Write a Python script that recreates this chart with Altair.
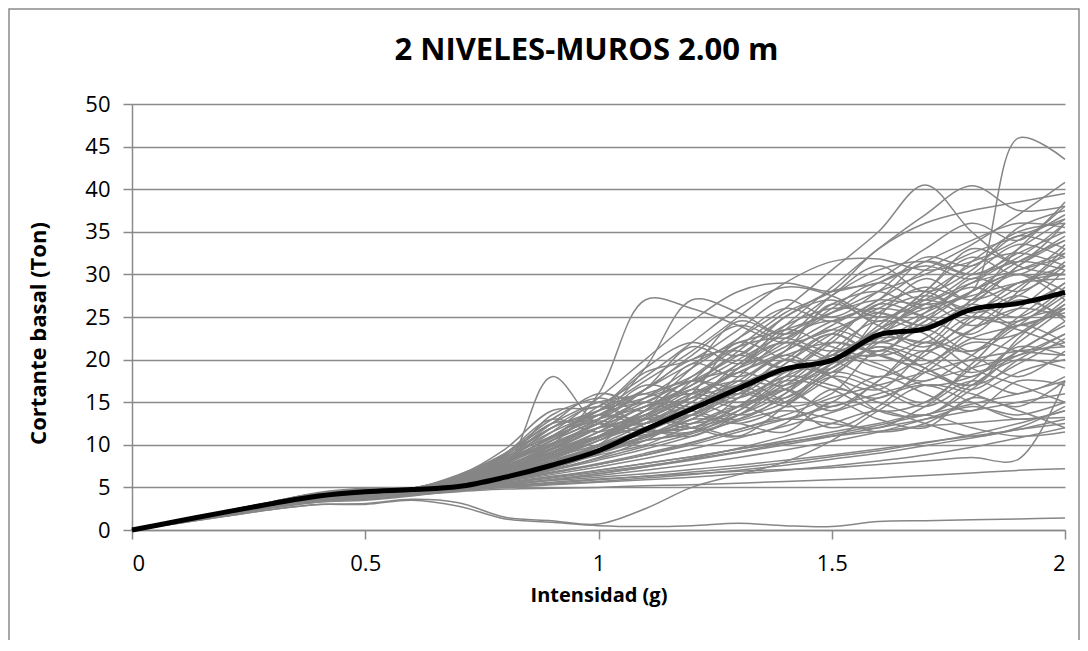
import altair as alt
import pandas as pd

X = [0, 0.1, 0.2, 0.3, 0.4, 0.5, 0.6, 0.7, 0.8, 0.9, 1.0,
     1.1, 1.2, 1.3, 1.4, 1.5, 1.6, 1.7, 1.8, 1.9, 2.0]

mean_curve = [0, 1.05, 2.1, 3.1, 4.0, 4.5, 4.75, 5.1, 6.2, 7.6, 9.3,
              11.8, 14.2, 16.6, 18.9, 19.9, 22.9, 23.6, 25.9, 26.6, 27.9]

g01 = [0,1.0,2.0,3.0,3.9,4.5,4.7,5.6,7.5,9.5,12.0,14.5,17.0,20.0,23.0,25.5,27.0,26.5,28.0,46.0,43.5]
g02 = [0,1.1,2.2,3.3,4.4,4.9,4.9,6.0,8.0,10.0,12.5,15.5,19.0,22.5,26.0,30.5,35.0,40.5,35.0,31.0,30.0]
g03 = [0,1.0,2.1,3.1,4.1,4.7,4.8,5.5,7.0,9.0,11.0,13.5,16.5,19.5,24.0,28.5,33.0,37.0,40.4,37.5,38.0]
g04 = [0,1.0,2.0,3.0,3.9,4.5,4.7,5.3,6.8,8.5,10.5,13.0,15.5,18.5,21.0,24.0,27.0,30.5,33.5,37.0,40.8]
g05 = [0,1.1,2.2,3.3,4.3,4.8,4.9,5.8,7.5,10.0,16.0,27.0,26.0,24.0,22.0,23.5,26.0,28.5,27.0,29.0,31.0]
g06 = [0,1.0,2.1,3.1,4.0,4.6,4.8,6.2,7.5,18.0,12.5,13.5,16.0,18.5,20.5,22.0,21.0,24.0,26.5,25.0,28.5]
g07 = [0,1.0,2.0,3.0,3.8,4.3,4.6,5.5,7.2,9.5,13.0,19.0,27.0,25.5,23.0,25.5,29.0,31.0,29.5,33.0,36.5]
g08 = [0,0.9,1.8,2.7,3.5,4.0,4.4,5.2,6.5,8.0,10.0,12.5,15.5,19.0,23.5,27.5,30.5,31.5,30.0,32.5,35.0]
g09 = [0,1.0,2.0,3.0,3.9,4.5,4.7,5.7,8.0,11.0,14.0,17.5,21.0,25.0,29.0,31.5,31.8,30.5,31.5,34.0,37.0]
g10 = [0,1.1,2.2,3.2,4.2,4.8,4.9,6.5,9.0,12.5,15.0,16.0,18.0,21.5,25.5,28.0,33.0,36.0,37.5,38.5,39.5]
g11 = [0,1.0,2.0,3.0,3.9,4.4,4.6,5.2,6.0,7.0,8.2,9.5,11.0,13.0,15.5,18.5,22.0,25.0,28.0,31.5,34.0]
g12 = [0,0.9,1.8,2.7,3.4,3.8,4.3,4.9,5.5,6.2,7.0,7.8,8.6,9.5,10.3,11.0,11.6,12.2,12.6,13.0,13.2]
g13 = [0,0.8,1.6,2.4,3.0,3.1,3.6,3.2,1.5,1.1,0.7,2.5,5.0,6.5,8.0,10.5,14.0,17.0,16.0,14.5,17.5]
g14 = [0,0.8,1.6,2.4,3.0,3.0,3.5,2.8,1.3,0.9,0.5,0.4,0.5,0.8,0.5,0.4,1.0,1.1,1.2,1.3,1.4]
g15 = [0,0.9,1.8,2.6,3.3,3.6,4.1,4.5,4.8,4.9,5.0,5.2,5.3,5.5,5.7,5.9,6.1,6.4,6.7,7.0,7.2]
g16 = [0,0.9,1.8,2.7,3.4,3.9,4.3,4.8,5.2,5.6,6.0,6.3,6.6,6.9,7.1,7.3,7.7,8.1,8.5,8.3,17.5]
g17 = [0,0.9,1.8,2.7,3.5,3.9,4.4,5.0,5.6,6.3,7.0,7.8,8.6,9.5,10.5,11.5,12.5,13.5,12.0,11.0,11.5]
g18 = [0,1.0,2.0,2.9,3.7,4.2,4.5,5.1,5.9,6.8,7.8,9.0,10.3,11.8,13.5,15.5,17.0,18.5,20.0,21.0,21.5]
g19 = [0,1.0,2.0,3.0,3.9,4.4,4.7,5.4,6.5,8.0,9.5,11.5,14.0,17.0,19.0,18.0,14.0,13.5,16.5,21.0,24.0]
g20 = [0,1.0,2.1,3.1,4.0,4.6,4.8,5.9,7.8,10.5,13.5,15.0,14.0,13.0,16.0,21.0,24.5,23.0,19.0,17.0,15.0]
g21 = [0,1.1,2.2,3.2,4.2,4.8,4.9,6.3,8.5,11.5,13.5,13.0,15.0,19.5,22.0,20.0,18.0,20.5,25.0,29.0,30.0]
g22 = [0,1.0,2.0,3.0,3.9,4.5,4.7,5.6,7.2,9.0,11.0,14.0,18.0,21.5,22.5,21.0,23.0,27.5,31.0,32.5,31.0]
g23 = [0,1.0,2.0,3.0,3.8,4.3,4.6,5.3,6.4,7.8,9.3,11.0,13.0,15.5,18.0,20.5,23.0,25.5,28.0,30.5,32.5]
g24 = [0,0.9,1.9,2.8,3.6,4.1,4.5,5.0,5.8,6.7,7.7,8.8,10.0,11.5,13.0,14.5,16.0,17.5,19.0,20.5,22.0]
g25 = [0,1.0,2.0,3.0,3.9,4.5,4.7,5.8,7.8,10.0,12.0,12.5,14.5,17.5,15.0,12.0,14.5,19.0,22.5,24.0,25.5]
g26 = [0,1.0,2.1,3.1,4.0,4.6,4.8,6.1,8.2,11.0,14.5,18.0,22.0,26.0,28.5,27.5,25.0,27.0,31.5,35.0,36.0]
g27 = [0,1.1,2.1,3.2,4.2,4.7,4.9,6.0,8.0,10.5,13.0,16.5,20.0,21.0,19.0,20.5,25.5,27.5,26.0,28.5,33.0]
g28 = [0,1.0,2.0,3.0,3.9,4.4,4.7,5.4,6.8,8.5,10.0,11.5,12.0,14.5,18.0,17.0,15.5,18.5,22.0,21.0,20.5]
g29 = [0,0.9,1.9,2.8,3.7,4.2,4.6,5.2,6.2,7.5,9.0,10.5,11.5,13.5,16.5,19.0,21.5,20.0,18.0,22.0,26.0]
g30 = [0,1.0,2.0,3.0,3.9,4.5,4.7,5.5,6.9,8.7,10.8,13.2,16.0,17.5,17.0,19.5,24.0,27.0,25.0,24.5,27.5]
g31 = [0,1.0,2.1,3.1,4.0,4.6,4.8,6.3,8.8,12.0,14.0,15.5,17.5,20.5,24.0,26.0,25.5,24.0,26.5,31.0,34.5]
g32 = [0,1.0,2.0,2.9,3.7,4.2,4.5,5.0,5.7,6.5,7.4,8.4,9.5,10.8,12.2,13.8,15.5,17.0,15.0,13.0,14.0]
g33 = [0,1.0,2.0,3.0,3.9,4.4,4.7,5.6,7.4,9.6,12.0,14.5,16.0,15.0,16.5,20.0,22.0,21.0,23.5,26.0,25.0]
g34 = [0,1.1,2.2,3.3,4.3,4.8,4.9,6.1,8.2,10.8,13.5,16.5,19.5,22.0,23.5,25.5,28.0,30.0,32.5,34.5,36.5]
g35 = [0,1.0,2.0,3.0,3.9,4.5,4.7,5.7,7.6,9.8,12.0,13.0,12.5,14.0,17.5,20.5,19.5,17.0,18.0,20.5,23.0]
g36 = [0,0.9,1.8,2.7,3.5,3.9,4.4,4.9,5.5,6.1,6.8,7.5,8.3,9.2,10.2,11.2,12.3,13.5,14.8,16.0,17.5]
g37 = [0,1.0,2.0,3.0,3.8,4.3,4.6,5.2,6.3,7.7,9.2,10.8,12.5,14.5,17.0,20.0,23.5,26.0,27.5,29.0,29.5]
g38 = [0,1.0,2.1,3.1,4.1,4.7,4.8,6.0,8.0,10.2,12.5,15.0,17.5,19.0,21.5,24.5,26.0,25.0,22.5,23.0,26.5]
g39 = [0,1.0,2.0,3.0,3.9,4.5,4.7,5.5,7.0,9.0,11.5,14.5,15.0,13.5,15.0,19.0,22.5,22.0,21.0,25.0,29.0]
g40 = [0,0.9,1.9,2.8,3.6,4.1,4.5,5.1,6.0,7.1,8.4,9.8,11.3,12.8,14.0,13.0,11.5,12.5,15.5,18.5,20.0]
g41 = [0,1.0,2.0,3.0,3.9,4.5,4.7,5.8,7.5,9.5,11.0,12.0,13.5,16.0,19.5,23.0,25.5,24.0,27.0,33.0,38.0]
g42 = [0,1.0,2.0,3.0,3.8,4.2,4.6,5.0,5.4,5.8,6.2,6.6,7.1,7.6,8.2,8.8,9.5,10.3,11.0,11.8,12.5]
g43 = [0,0.9,1.8,2.7,3.5,3.9,4.3,4.7,5.1,5.5,5.9,6.3,6.8,7.3,7.9,8.6,9.3,10.2,11.2,12.5,14.0]
g44 = [0,1.0,2.0,3.0,3.9,4.5,4.7,5.4,6.6,8.2,9.8,11.2,12.0,13.5,16.0,19.5,20.5,18.5,17.0,19.5,22.5]
g45 = [0,1.0,2.0,3.0,3.9,4.4,4.7,5.6,7.2,9.2,11.0,13.0,15.5,17.0,18.5,20.5,23.5,26.5,29.0,30.5,32.0]
g46 = [0,1.1,2.1,3.2,4.2,4.8,4.9,6.2,8.6,11.0,13.0,14.5,17.0,21.0,25.0,28.0,29.0,31.5,34.0,36.0,35.5]
g47 = [0,1.0,2.0,3.0,3.9,4.4,4.7,5.3,6.5,8.0,9.5,10.5,11.5,14.5,17.5,16.5,14.0,15.0,19.0,23.0,26.5]
g48 = [0,1.0,2.0,2.9,3.7,4.1,4.5,5.0,5.8,6.7,7.7,8.8,10.2,11.8,13.0,12.5,12.0,14.5,17.5,16.0,18.0]
g49 = [0,0.9,1.8,2.7,3.4,3.6,4.1,4.6,5.2,5.9,6.6,7.4,8.2,9.1,10.0,11.0,12.0,13.0,14.0,15.0,16.0]
g50 = [0,1.0,2.0,3.0,3.9,4.5,4.7,5.9,8.0,13.5,15.0,12.0,11.5,14.0,18.0,22.5,26.5,28.0,25.5,27.5,31.5]
g51 = [0,1.0,2.0,3.0,3.9,4.5,4.7,6.0,9.0,13.0,11.5,14.0,19.5,18.0,21.0,26.5,24.0,22.0,27.0,30.0,28.0]
g52 = [0,1.0,2.1,3.1,4.0,4.6,4.8,5.8,8.0,12.0,14.5,12.5,16.0,22.0,20.0,19.0,25.0,29.5,27.0,31.0,34.0]
g53 = [0,1.1,2.2,3.2,4.2,4.8,4.9,6.4,9.5,14.0,14.5,19.0,22.0,20.5,25.0,27.0,24.5,28.0,33.0,31.5,36.0]
g54 = [0,1.0,2.0,3.0,3.9,4.4,4.7,5.5,7.0,9.5,12.5,11.0,13.5,17.0,14.5,16.0,21.0,19.0,17.0,22.5,27.0]
g55 = [0,0.9,1.9,2.8,3.6,4.1,4.5,5.2,6.3,7.7,10.0,13.5,12.0,11.0,14.5,18.5,17.0,15.0,19.5,24.0,22.0]
g56 = [0,1.0,2.0,3.0,3.9,4.5,4.7,5.9,8.4,12.5,16.0,15.0,19.0,24.5,23.0,27.5,31.0,28.0,30.5,35.5,37.5]
g57 = [0,1.0,2.1,3.1,4.0,4.6,4.8,6.0,8.3,11.5,15.5,20.0,24.5,28.0,29.0,28.0,29.5,33.0,36.0,34.0,38.5]
g58 = [0,1.0,2.0,3.0,3.8,4.3,4.6,5.3,6.6,8.3,10.5,13.0,12.0,15.5,20.0,18.5,22.5,26.5,24.0,26.0,30.5]
g59 = [0,0.9,1.8,2.7,3.5,3.9,4.4,5.0,5.9,7.0,8.5,10.5,13.0,12.5,11.5,15.0,13.0,12.0,15.5,14.0,12.0]
g60 = [0,1.0,2.0,2.9,3.7,4.2,4.5,5.1,6.0,7.2,9.0,11.5,11.0,13.5,16.5,14.0,17.5,21.0,18.5,21.0,24.5]
g61 = [0,1.0,2.0,3.0,3.9,4.5,4.7,5.7,7.7,10.5,13.0,17.0,16.0,19.0,23.5,21.5,20.5,25.5,28.5,26.5,29.0]
g62 = [0,1.1,2.1,3.2,4.2,4.7,4.9,6.2,8.7,12.5,13.0,16.5,21.5,19.5,22.0,26.0,29.0,27.0,30.0,33.5,32.0]
g63 = [0,1.0,2.0,3.0,3.9,4.4,4.7,5.4,6.8,8.7,10.5,12.5,15.0,18.5,16.5,14.5,17.5,22.0,20.5,18.0,21.0]
g64 = [0,0.9,1.9,2.8,3.6,4.1,4.5,5.1,6.1,7.4,8.8,10.0,12.0,11.0,12.5,16.5,15.0,13.5,17.0,20.0,19.0]
g65 = [0,1.0,2.0,3.0,3.9,4.5,4.7,5.8,7.9,11.0,14.0,16.0,14.5,18.0,22.5,24.5,22.0,24.5,29.5,28.0,31.0]
g66 = [0,1.0,2.1,3.1,4.1,4.7,4.8,6.1,8.5,12.0,14.0,18.5,20.0,23.5,27.0,25.0,28.0,32.0,31.0,34.5,33.0]
g67 = [0,1.0,2.0,3.0,3.8,4.3,4.6,5.4,6.7,8.5,11.0,14.0,17.5,16.0,19.5,23.0,20.5,19.5,23.5,27.0,25.0]
g68 = [0,1.0,2.0,3.0,3.9,4.5,4.7,5.6,7.3,9.4,12.0,15.5,17.5,16.5,15.5,19.5,23.0,21.5,24.5,27.5,24.5]
g69 = [0,0.9,1.8,2.7,3.5,4.0,4.4,5.0,6.0,7.3,9.0,11.0,13.5,16.0,15.0,18.0,21.5,19.0,16.5,20.0,23.0]
g70 = [0,1.0,2.0,3.0,3.9,4.4,4.7,5.5,7.0,9.2,11.5,14.0,17.0,20.5,19.0,22.0,26.5,25.0,23.0,28.0,32.5]
g71 = [0,1.1,2.2,3.3,4.3,4.8,4.9,6.3,9.0,13.0,15.5,14.0,17.5,22.5,26.0,24.5,27.0,31.5,30.0,32.0,36.0]
g72 = [0,1.0,2.0,3.0,3.9,4.5,4.7,5.7,7.5,10.0,12.5,15.0,13.5,17.0,20.5,18.0,16.5,21.0,25.0,23.5,21.5]
g73 = [0,1.0,2.0,2.9,3.7,4.2,4.5,5.2,6.2,7.6,9.3,11.0,12.5,14.5,13.0,15.0,18.0,16.0,14.0,17.5,17.0]
g74 = [0,1.0,2.1,3.1,4.0,4.6,4.8,5.9,8.0,11.0,14.0,16.5,20.5,24.0,22.5,26.5,28.0,26.0,29.0,31.5,30.5]
g75 = [0,1.0,2.0,3.0,3.9,4.5,4.7,5.6,7.1,9.0,11.0,13.5,16.5,15.5,18.5,22.0,21.0,23.5,21.0,24.0,28.0]
g76 = [0,0.9,1.8,2.7,3.5,3.9,4.4,5.1,6.2,7.8,9.8,12.0,14.5,17.5,21.0,23.5,22.0,24.5,28.0,30.0,27.0]
g77 = [0,1.0,2.0,3.0,3.9,4.4,4.7,5.5,6.9,8.8,10.8,13.0,15.5,14.5,17.0,20.5,19.0,17.5,20.5,24.5,26.0]
g78 = [0,1.0,2.0,3.0,3.9,4.5,4.7,5.8,7.8,10.5,13.5,12.5,15.0,19.0,22.0,20.0,23.5,28.0,32.0,30.0,33.5]
g79 = [0,1.1,2.1,3.2,4.2,4.7,4.9,6.0,8.0,10.8,12.8,11.5,13.0,16.5,20.0,23.0,20.5,22.5,26.0,24.0,26.0]
g80 = [0,1.0,2.0,3.0,3.8,4.3,4.6,5.3,6.5,8.0,9.8,11.5,13.5,12.5,14.5,18.0,16.5,14.5,17.5,21.5,20.5]
g81 = [0,0.9,1.8,2.7,3.4,3.7,4.2,4.7,5.1,5.4,5.7,6.1,6.5,7.0,7.6,8.3,9.0,9.9,10.8,11.8,13.0]
g82 = [0,0.9,1.8,2.6,3.3,3.5,4.0,4.6,5.0,5.3,5.6,5.9,6.2,6.6,7.0,7.5,8.1,8.8,9.7,10.8,12.0]
g83 = [0,1.0,1.9,2.8,3.6,4.0,4.4,4.9,5.4,5.9,6.4,7.0,7.7,8.5,9.4,10.4,11.5,13.0,14.5,13.5,15.0]
g84 = [0,0.9,1.8,2.7,3.4,3.8,4.3,4.8,5.3,5.9,6.6,7.4,8.4,9.6,11.0,12.5,14.0,12.5,11.0,12.0,14.5]

gray_series = [g01, g02, g03, g04, g05, g06, g07, g08, g09, g10,
               g11, g12, g13, g14, g15, g16, g17, g18, g19, g20,
               g21, g22, g23, g24, g25, g26, g27, g28, g29, g30,
               g31, g32, g33, g34, g35, g36, g37, g38, g39, g40,
               g41, g42, g43, g44, g45, g46, g47, g48, g49, g50,
               g51, g52, g53, g54, g55, g56, g57, g58, g59, g60,
               g61, g62, g63, g64, g65, g66, g67, g68, g69, g70,
               g71, g72, g73, g74, g75, g76, g77, g78, g79, g80,
               g81, g82, g83, g84]

rows = []
for i, s in enumerate(gray_series):
    for xv, yv in zip(X, s):
        rows.append({"x": xv, "y": yv, "serie": f"R{i+1:02d}"})
gray_df = pd.DataFrame(rows)
mean_df = pd.DataFrame({"x": X, "y": mean_curve})

FONT = "Open Sans"
GRID = "#8a8a8a"

x_enc = alt.X("x:Q", scale=alt.Scale(domain=[0, 2], nice=False),
              axis=alt.Axis(values=[0, 0.5, 1, 1.5, 2], format="~g",
                            title="Intensidad (g)", grid=False,
                            domain=True, domainColor=GRID, domainWidth=1.5,
                            ticks=True, tickColor=GRID, tickSize=9, tickWidth=1.5,
                            labelFont=FONT, labelFontSize=22, labelColor="#000000",
                            labelPadding=14, titleFont=FONT, titleFontSize=20,
                            titleFontWeight="bold", titleColor="#000000",
                            titlePadding=11))
y_enc = alt.Y("y:Q", scale=alt.Scale(domain=[0, 50], nice=False),
              axis=alt.Axis(values=list(range(0, 51, 5)), title="Cortante basal (Ton)",
                            grid=True, gridColor=GRID, gridWidth=1.5,
                            domain=True, domainColor=GRID, domainWidth=1.5,
                            ticks=True, tickColor=GRID, tickSize=9, tickWidth=1.5,
                            labelFont=FONT, labelFontSize=22, labelColor="#000000",
                            labelPadding=13, titleFont=FONT, titleFontSize=22,
                            titleFontWeight="bold", titleColor="#000000",
                            titleAngle=270, titleX=-94, titleY=229,
                            titleAlign="center", titleBaseline="middle"))

gray = alt.Chart(gray_df).mark_line(
    interpolate="catmull-rom", color="#868686", strokeWidth=1.5
).encode(x=x_enc, y=y_enc, detail="serie:N")

black = alt.Chart(mean_df).mark_line(
    interpolate="catmull-rom", color="#000000", strokeWidth=5
).encode(x="x:Q", y="y:Q")

border = alt.Chart(pd.DataFrame({"a": [0]})).mark_rect(
    fill=None, stroke="#8a8a8a", strokeWidth=1.5
).encode(x=alt.value(-123), x2=alt.value(947), y=alt.value(-95), y2=alt.value(538))

chart = alt.layer(border, gray, black).properties(
    width=933, height=426,
    autosize=alt.AutoSizeParams(type="none"),
    padding={"left": 124, "top": 96, "right": 15, "bottom": 110},
    title=alt.TitleParams("2 NIVELES-MUROS 2.00 m", font=FONT, fontSize=31,
                          fontWeight="bold", color="#000000", anchor="middle",
                          frame="group", baseline="alphabetic", offset=0,
                          dy=83, dx=-12)
).configure_view(strokeWidth=0)

chart.save("out.html", embed_options={"renderer": "svg", "actions": False})
